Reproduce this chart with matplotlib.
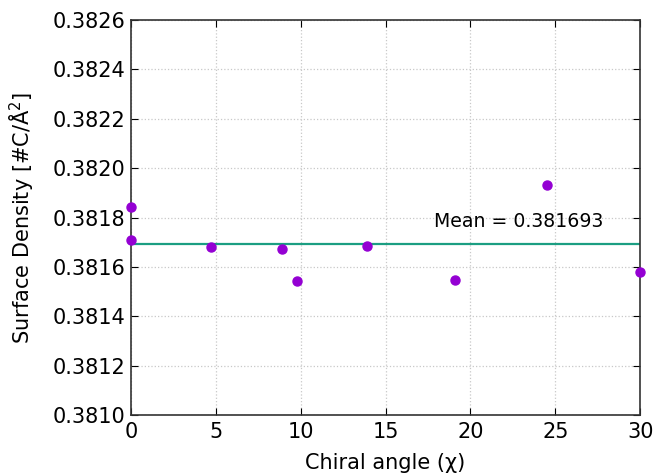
import numpy as np
import matplotlib.pyplot as plt

# chiral angle vs surface density
chiral = [0.0, 0.0, 4.7, 8.9, 9.8, 13.9, 19.1, 24.5, 30.0]
density = [0.381842, 0.381710, 0.381682, 0.381674, 0.381545, 0.381686, 0.381547, 0.381930, 0.381580]
mean_val = 0.381693

yticks = [0.3810, 0.3812, 0.3814, 0.3816, 0.3818, 0.3820, 0.3822, 0.3824, 0.3826]
xticks = [0, 5, 10, 15, 20, 25, 30]

fig = plt.figure(figsize=(6.58, 4.74), dpi=100)
ax = fig.add_axes([0.199, 0.124, 0.774, 0.834])

ax.axhline(mean_val, color='#1b9e82', lw=1.6, zorder=2)
ax.plot(chiral, density, 'o', color='#9400d3', ms=6.5, mec='#9400d3', zorder=3, clip_on=False)
ax.text(17.85, 0.381785, "Mean = %.6f" % mean_val, fontsize=13.6, va='center')

ax.set_xlim(0, 30)
ax.set_ylim(0.3810, 0.3826)
ax.set_xticks(xticks)
ax.set_yticks(yticks)
ax.set_yticklabels(["%.4f" % v for v in yticks])
ax.tick_params(direction='in', top=True, right=True, labelsize=15, length=5)
ax.tick_params(axis='x', pad=5)
ax.tick_params(axis='y', pad=4)
ax.grid(True, ls=':', color='#c8c8c8', lw=0.9)
for s in ax.spines.values():
    s.set_linewidth(1.2)
    s.set_color('#333333')

ax.set_xlabel("Chiral angle (χ)", fontsize=15, labelpad=8)
ax.set_ylabel("Surface Density [#C/Å$^2$]", fontsize=15, labelpad=12)

fig.savefig("out.png", dpi=100)
